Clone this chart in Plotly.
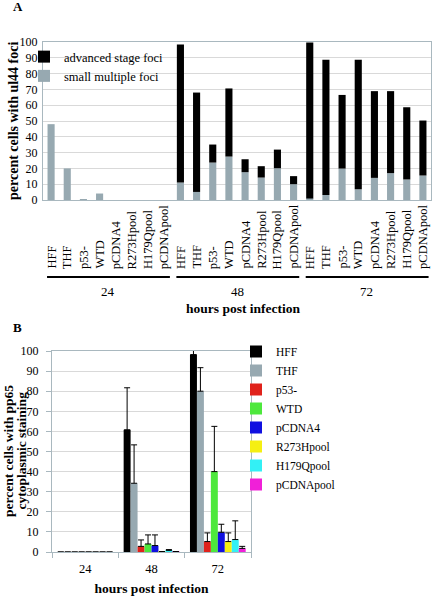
import plotly.graph_objects as go

W, H = 432, 596

# ---------------- data ----------------
hours = ["24", "48", "72"]
cells = ["HFF", "THF", "p53-", "WTD", "pCDNA4", "R273Hpool", "H179Qpool", "pCDNApool"]

# Panel A: percent cells with UL44 foci (stacked: small multiple + advanced stage)
small_foci = [48, 20, 0.6, 4.1, 0, 0, 0, 0,
              11.1, 5.1, 23.7, 27.5, 17.6, 14.2, 20.1, 10.0,
              1.0, 3.2, 19.9, 6.8, 14.0, 17.0, 13.0, 15.5]
advanced_foci = [0, 0, 0, 0, 0, 0, 0, 0,
                 87.3, 62.9, 11.4, 43.1, 8.2, 7.2, 11.8, 5.1,
                 98.7, 85.5, 46.6, 81.9, 54.9, 51.9, 45.7, 34.8]

# Panel B: percent cells with pp65 cytoplasmic staining (value, upper error)
pp65 = {
    "HFF":       ([0, 60.8, 98.2], [0, 20.9, 2.3]),
    "THF":       ([0, 34.2, 80.0], [0, 19.1, 11.7]),
    "p53-":      ([0, 2.8, 5.2],   [0, 3.2, 4.3]),
    "WTD":       ([0, 4.0, 40.0],  [0, 4.5, 22.5]),
    "pCDNA4":    ([0, 3.2, 9.8],   [0, 5.3, 4.0]),
    "R273Hpool": ([0, 0.2, 5.2],   [0, 0.0, 4.3]),
    "H179Qpool": ([0, 0.8, 6.2],   [0, 0.4, 9.3]),
    "pCDNApool": ([0, 0.2, 1.8],   [0, 0.0, 1.0]),
}
colors_b = ["#000000", "#97a9b1", "#e0221b", "#4de83c", "#1010e0", "#f5ef12", "#33f0f5", "#f020d8"]

yticks = list(range(0, 101, 10))

# ---------------- helpers ----------------
def px_x(x):
    return x / W

def px_y(y):
    return 1 - y / H

SERIF = "Liberation Serif, Times New Roman, serif"
GRID = "#d9d9d9"
FRAME = "#a9b8bf"
GRAYBAR = "#97a9b1"

fig = go.Figure()

# ---------------- panel A ----------------
xpos = [g * len(cells) + i for g in range(len(hours)) for i in range(len(cells))]

fig.add_trace(go.Bar(
    x=xpos, y=small_foci, name="small multiple foci",
    marker=dict(color=GRAYBAR, line=dict(width=0)),
    width=0.44, offsetgroup="A", xaxis="x", yaxis="y", legend="legend",
    legendrank=2,
))
fig.add_trace(go.Bar(
    x=xpos, y=advanced_foci, base=small_foci, name="advanced stage foci",
    marker=dict(color="#000000", line=dict(width=0)),
    width=0.44, offsetgroup="A", xaxis="x", yaxis="y", legend="legend",
    legendrank=1,
))

# ---------------- panel B ----------------
for name, col in zip(cells, colors_b):
    vals, errs = pp65[name]
    fig.add_trace(go.Bar(
        x=hours, y=vals, name=name,
        marker=dict(color=col, line=dict(width=0)),
        error_y=dict(type="data", array=errs, arrayminus=[0] * len(errs), symmetric=False,
                     color="#000000", thickness=1, width=3),
        xaxis="x2", yaxis="y2", legend="legend2",
    ))

annotations = []
shapes = []

# category labels and group lines for A
for g, hr in enumerate(hours):
    for i, c in enumerate(cells):
        annotations.append(dict(
            x=g * len(cells) + i, xref="x", y=px_y(271), yref="paper",
            text=c, textangle=-90, showarrow=False,
            xanchor="center", yanchor="bottom",
            font=dict(family=SERIF, size=12.5, color="#000"),
        ))
    shapes.append(dict(
        type="line", xref="x", yref="paper",
        x0=g * len(cells) - 0.25, x1=g * len(cells) + len(cells) - 0.65,
        y0=px_y(277), y1=px_y(277),
        line=dict(color="#000", width=2),
    ))
    annotations.append(dict(
        x=g * len(cells) + (len(cells) - 1) / 2, xref="x", y=px_y(291), yref="paper",
        text=hr, showarrow=False, xanchor="center", yanchor="middle",
        font=dict(family=SERIF, size=13, color="#000"),
    ))

title_size = 13.5
annotations += [
    dict(x=px_x(244), y=px_y(308), xref="paper", yref="paper",
         text="<b>hours post infection</b>", showarrow=False,
         xanchor="center", yanchor="middle",
         font=dict(family=SERIF, size=title_size, color="#000")),
    # panel A y title
    dict(x=px_x(14), y=px_y(121), xref="paper", yref="paper",
         text="<b>percent cells with ul44 foci</b>", textangle=-90, showarrow=False,
         xanchor="center", yanchor="middle",
         font=dict(family=SERIF, size=14, color="#000")),
    # panel B y title (two lines)
    dict(x=px_x(8), y=px_y(451), xref="paper", yref="paper",
         text="<b>percent cells with pp65</b>", textangle=-90, showarrow=False,
         xanchor="center", yanchor="middle",
         font=dict(family=SERIF, size=title_size, color="#000")),
    dict(x=px_x(20.5), y=px_y(451), xref="paper", yref="paper",
         text="<b>cytoplasmic staining</b>", textangle=-90, showarrow=False,
         xanchor="center", yanchor="middle",
         font=dict(family=SERIF, size=title_size, color="#000")),
    dict(x=px_x(11), y=px_y(7), xref="paper", yref="paper",
         text="<b>A</b>", showarrow=False, xanchor="left", yanchor="middle",
         font=dict(family=SERIF, size=13, color="#000")),
    dict(x=px_x(11), y=px_y(327), xref="paper", yref="paper",
         text="<b>B</b>", showarrow=False, xanchor="left", yanchor="middle",
         font=dict(family=SERIF, size=13, color="#000")),
]

axis_font = dict(family=SERIF, size=12, color="#000")

fig.update_layout(
    template="none",
    width=W, height=H,
    margin=dict(l=0, r=0, t=0, b=0, autoexpand=False),
    paper_bgcolor="white", plot_bgcolor="white",
    barmode="group", bargap=0.16, bargroupgap=0,
    showlegend=True,
    font=dict(family=SERIF, color="#000"),
    xaxis=dict(
        domain=[px_x(43), px_x(431)], anchor="y", automargin=False,
        range=[-0.5, len(xpos) - 0.5], showticklabels=False, ticks="",
        showgrid=False, zeroline=False,
        showline=True, linecolor=FRAME, linewidth=1, mirror=True,
    ),
    yaxis=dict(
        domain=[px_y(200), px_y(42)], anchor="x", automargin=False,
        range=[0, 100], tickvals=yticks, ticks="",
        tickfont=axis_font, ticklabelstandoff=2,
        showgrid=True, gridcolor=GRID, gridwidth=1, zeroline=False,
        showline=True, linecolor=FRAME, linewidth=1, mirror=True,
    ),
    xaxis2=dict(
        domain=[px_x(52), px_x(251)], anchor="y2", automargin=False,
        type="category", categoryorder="array", categoryarray=hours,
        ticks="outside", tickson="boundaries", ticklen=5, tickcolor=FRAME,
        tickfont=dict(family=SERIF, size=12.5, color="#000"), ticklabelstandoff=5,
        showgrid=False, zeroline=False,
        showline=True, linecolor=FRAME, linewidth=1, mirror=True,
        title=dict(text="<b>hours post infection</b>",
                   font=dict(family=SERIF, size=title_size, color="#000"), standoff=8),
    ),
    yaxis2=dict(
        domain=[px_y(552), px_y(351)], anchor="x2", automargin=False,
        range=[0, 100], tickvals=yticks,
        ticks="outside", ticklen=5, tickcolor=FRAME,
        tickfont=axis_font, ticklabelstandoff=5,
        showgrid=True, gridcolor=GRID, gridwidth=1, zeroline=False,
        showline=True, linecolor=FRAME, linewidth=1, mirror=True,
    ),
    legend=dict(
        x=px_x(24), y=px_y(42), xanchor="left", yanchor="top",
        bgcolor="rgba(0,0,0,0)", font=dict(family=SERIF, size=12.5, color="#000"),
        traceorder="normal", itemwidth=30,
    ),
    legend2=dict(
        x=px_x(236), y=px_y(337), xanchor="left", yanchor="top",
        bgcolor="rgba(0,0,0,0)", font=dict(family=SERIF, size=11.5, color="#000"),
        traceorder="normal", itemwidth=30, tracegroupgap=0,
    ),
    annotations=annotations,
    shapes=shapes,
)

fig.write_html("out.html", config={"displayModeBar": False},
               post_script="document.body.style.margin='0';")
